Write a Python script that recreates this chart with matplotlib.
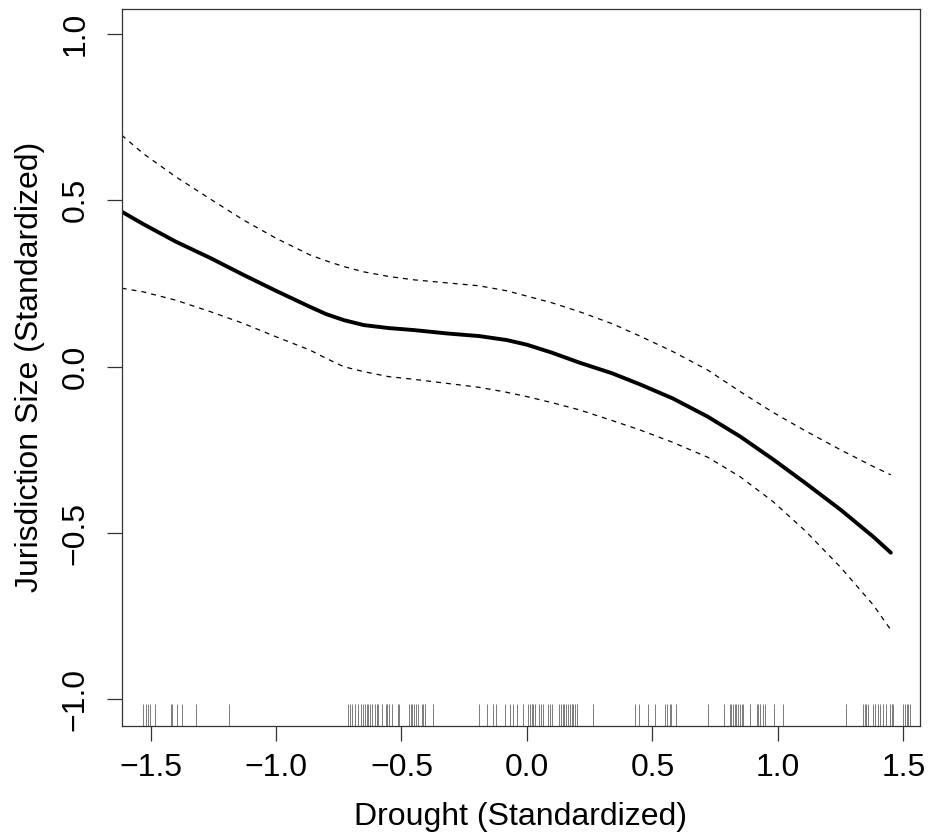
import numpy as np
import matplotlib
matplotlib.use('Agg')
import matplotlib.pyplot as plt
import matplotlib.transforms as mtransforms

plt.rcParams.update({
    'font.family': ['Liberation Sans', 'DejaVu Sans'],
    'font.size': 23,
    'axes.linewidth': 0.9,
})

# smooth term estimate with its band
drought = [-1.615, -1.53, -1.40, -1.26, -1.13, -1.00, -0.865, -0.80, -0.73, -0.65,
           -0.55, -0.45, -0.32, -0.19, -0.08, 0.0, 0.10, 0.21, 0.34, 0.45,
           0.58, 0.72, 0.85, 0.98, 1.11, 1.25, 1.38, 1.45]
fit = [0.466, 0.429, 0.376, 0.326, 0.276, 0.228, 0.180, 0.158, 0.140, 0.125,
       0.116, 0.110, 0.100, 0.092, 0.080, 0.066, 0.042, 0.012, -0.020, -0.053,
       -0.095, -0.150, -0.210, -0.278, -0.350, -0.430, -0.511, -0.559]
upper = [0.696, 0.641, 0.571, 0.503, 0.441, 0.386, 0.336, 0.318, 0.301, 0.285,
         0.271, 0.261, 0.252, 0.243, 0.228, 0.212, 0.192, 0.165, 0.129, 0.092,
         0.046, -0.010, -0.075, -0.137, -0.193, -0.250, -0.300, -0.325]
lower = [0.236, 0.225, 0.200, 0.165, 0.130, 0.090, 0.050, 0.025, 0.000, -0.015,
         -0.030, -0.038, -0.050, -0.062, -0.077, -0.090, -0.108, -0.130, -0.162, -0.190,
         -0.227, -0.272, -0.331, -0.405, -0.494, -0.603, -0.716, -0.791]

# observed drought values (rug)
rug_x = [-1.529, -1.519, -1.509, -1.502, -1.482, -1.418, -1.416, -1.396, -1.375,
         -1.320, -1.186,
         -0.712, -0.705, -0.696, -0.685, -0.672, -0.661, -0.655, -0.645, -0.639,
         -0.632, -0.625, -0.619, -0.606, -0.599, -0.592, -0.579, -0.562, -0.557,
         -0.549, -0.539, -0.515, -0.510, -0.470, -0.463, -0.457, -0.450, -0.443,
         -0.435, -0.420, -0.413, -0.406, -0.373,
         -0.191, -0.161, -0.134, -0.125, -0.088, -0.068, -0.055, -0.041, -0.017,
         0.005, 0.012, 0.019, 0.025, 0.032, 0.049, 0.055, 0.065, 0.085, 0.092,
         0.098, 0.129, 0.134, 0.142, 0.147, 0.155, 0.165, 0.171, 0.178, 0.184,
         0.191, 0.198, 0.264,
         0.430, 0.448, 0.483, 0.510, 0.550, 0.557, 0.570, 0.576, 0.594, 0.722,
         0.785, 0.809, 0.815, 0.822, 0.829, 0.835, 0.842, 0.849, 0.855, 0.862,
         0.888, 0.915, 0.922, 0.928, 0.941, 0.948, 0.984, 1.021,
         1.271, 1.340, 1.347, 1.353, 1.360, 1.377, 1.386, 1.400, 1.406, 1.420,
         1.430, 1.446, 1.453, 1.459, 1.499, 1.506, 1.513, 1.519, 1.526]

fig = plt.figure(figsize=(9.33, 8.39), dpi=100)
ax = fig.add_axes([0.1304, 0.135, 0.8556, 0.8543])

ax.plot(drought, fit, color='black', lw=2.8, solid_capstyle='round', solid_joinstyle='round')
ax.plot(drought, upper, color='black', lw=0.9, dashes=(4, 4))
ax.plot(drought, lower, color='black', lw=0.9, dashes=(4, 4))

trans = mtransforms.blended_transform_factory(ax.transData, ax.transAxes)
ax.vlines(rug_x, 0, 0.031, transform=trans, color='#444444', lw=0.7, alpha=0.7)

ax.set_xlim(-1.615, 1.566)
ax.set_ylim(-1.079, 1.075)
ax.set_xticks([-1.5, -1.0, -0.5, 0.0, 0.5, 1.0, 1.5])
ax.set_yticks([-1.0, -0.5, 0.0, 0.5, 1.0])
ax.set_xticklabels(['\u22121.5', '\u22121.0', '\u22120.5', '0.0', '0.5', '1.0', '1.5'])
ax.set_yticklabels(['\u22121.0', '\u22120.5', '0.0', '0.5', '1.0'], rotation=90, va='center')
ax.tick_params(axis='both', length=10.5, width=0.9, color='#333333')
ax.tick_params(axis='x', pad=9)
ax.tick_params(axis='y', pad=12)
for s in ax.spines.values():
    s.set_color('#333333')

ax.set_xlabel('Drought (Standardized)', labelpad=14)
ax.set_ylabel('Jurisdiction Size (Standardized)', labelpad=11)

fig.savefig('out.png', dpi=100)
